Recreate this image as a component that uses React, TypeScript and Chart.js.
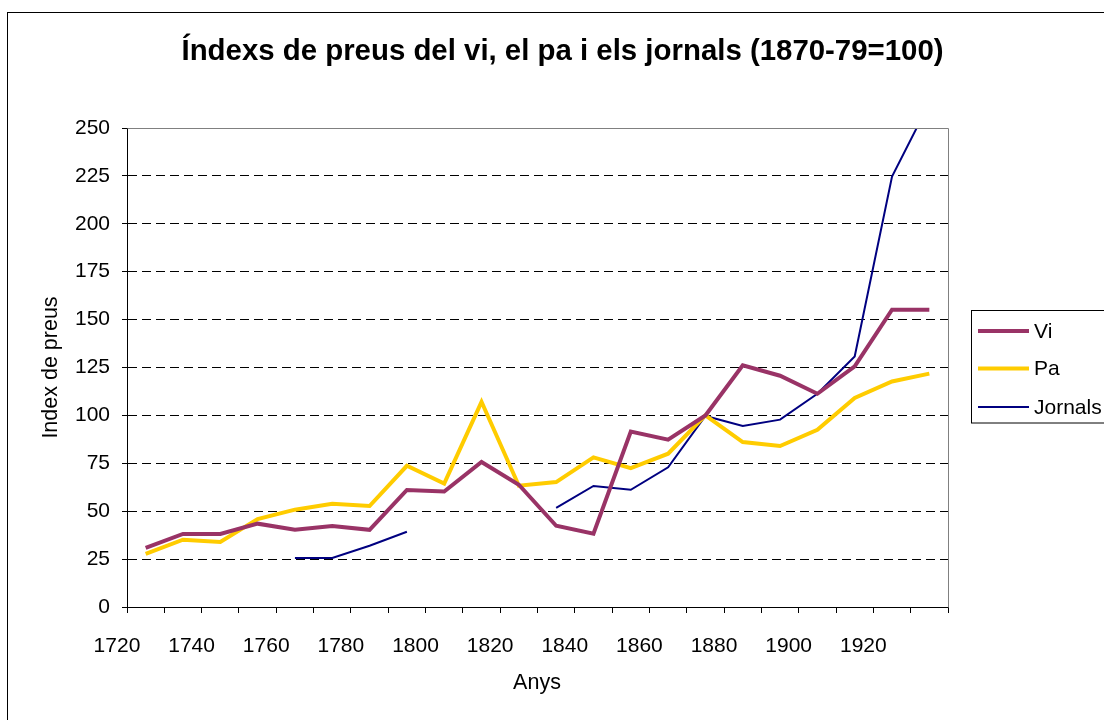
import React, { useEffect, useRef } from "react";
import { Chart, registerables } from "chart.js";

Chart.register(...registerables);

const categories = [
  "1720", "1730", "1740", "1750", "1760", "1770", "1780", "1790", "1800", "1810", "1820",
  "1830", "1840", "1850", "1860", "1870", "1880", "1890", "1900", "1910", "1920", "1930",
];
const viValues = [
  30.8, 38.1, 38.1, 43.5, 40.3, 42.3, 40.3, 61.1, 60.3, 75.7, 63.8,
  42.4, 38.3, 91.6, 87.3, 100, 126.1, 120.7, 111.3, 125.6, 155.2, 155.2,
];
const paValues = [
  27.7, 35.1, 33.9, 45.9, 50.8, 53.9, 52.7, 73.7, 64.4, 107.1, 63.3,
  65.2, 78.1, 72.5, 80, 100, 86.1, 84, 92.5, 109.1, 117.7, 121.8,
];
const jornalsValues = [
  null, null, null, null, 25.6, 25.6, 32, 39.3, null, null, null,
  51.7, 63.2, 61.2, 72.9, 99.7, 94.5, 97.8, 111.3, 130.8, 224.7, 263,
];
const seriesNames = ["Vi", "Pa", "Jornals"];
const titleText = "Índexs de preus del vi, el pa i els jornals (1870-79=100)";
const yTitle = "Index de preus";
const xTitle = "Anys";

const FONT = "'Liberation Sans', Arial, sans-serif";

const decorPlugin = {
  id: "decor",
  beforeDraw(chart: any) {
    const ctx = chart.ctx;
    ctx.save();
    ctx.fillStyle = "#ffffff";
    ctx.fillRect(0, 0, chart.width, chart.height);
    ctx.strokeStyle = "#000000";
    ctx.lineWidth = 1;
    ctx.strokeRect(7.5, 12.5, 1200, 900);
    ctx.restore();
  },
  afterDraw(chart: any) {
    const ctx = chart.ctx;
    const a = chart.chartArea;
    ctx.save();
    ctx.strokeStyle = "#808080";
    ctx.lineWidth = 1;
    ctx.beginPath();
    ctx.moveTo(Math.round(a.left) + 0.5, Math.round(a.top) + 0.5);
    ctx.lineTo(Math.round(a.right) + 0.5, Math.round(a.top) + 0.5);
    ctx.lineTo(Math.round(a.right) + 0.5, Math.round(a.bottom) + 0.5);
    ctx.stroke();

    ctx.fillStyle = "#000000";
    ctx.font = `bold 29.4px ${FONT}`;
    ctx.textAlign = "center";
    ctx.textBaseline = "alphabetic";
    ctx.fillText(titleText, 562.5, 59.5);

    ctx.font = `21.5px ${FONT}`;
    ctx.textAlign = "center";
    ctx.textBaseline = "alphabetic";
    ctx.fillText(xTitle, 537, 689);
    ctx.save();
    ctx.translate(57, 367.5);
    ctx.rotate(-Math.PI / 2);
    ctx.fillText(yTitle, 0, 0);
    ctx.restore();

    const lx = 971.5, ly = 310.5;
    ctx.strokeStyle = "#000000";
    ctx.lineWidth = 1;
    ctx.strokeRect(lx, ly, 200, 112.5);
    const rows = [331, 368.5, 407];
    chart.data.datasets.forEach((ds: any, i: number) => {
      ctx.strokeStyle = ds.borderColor;
      ctx.lineWidth = ds.borderWidth;
      ctx.beginPath();
      ctx.moveTo(978, rows[i]);
      ctx.lineTo(1029, rows[i]);
      ctx.stroke();
      ctx.fillStyle = "#000000";
      ctx.font = `21px ${FONT}`;
      ctx.textAlign = "left";
      ctx.textBaseline = "middle";
      ctx.fillText(ds.label, 1034, rows[i] + 1);
    });
    ctx.restore();
  },
};

export default function App() {
  const ref = useRef<HTMLCanvasElement | null>(null);
  useEffect(() => {
    if (!ref.current) return;
    const chart = new Chart(ref.current, {
      type: "line",
      data: {
        labels: categories,
        datasets: [
          { label: seriesNames[0], data: viValues, borderColor: "#993366", backgroundColor: "#993366", borderWidth: 4, pointRadius: 0, tension: 0 },
          { label: seriesNames[1], data: paValues, borderColor: "#FFCC00", backgroundColor: "#FFCC00", borderWidth: 4, pointRadius: 0, tension: 0 },
          { label: seriesNames[2], data: jornalsValues, borderColor: "#000080", backgroundColor: "#000080", borderWidth: 2, pointRadius: 0, tension: 0, spanGaps: false },
        ],
      },
      options: {
        responsive: false,
        animation: false,
        devicePixelRatio: 1,
        layout: { padding: { left: 0, top: 128, right: 156, bottom: 0 } },
        plugins: {
          legend: { display: false },
          title: { display: false },
          tooltip: { enabled: false },
        },
        scales: {
          x: {
            type: "category",
            offset: true,
            afterFit: (s: any) => { s.height = 113; },
            grid: {
              display: true,
              offset: true,
              drawOnChartArea: false,
              drawTicks: true,
              tickLength: 6,
              tickColor: "#000000",
              color: "#000000",
            },
            border: { display: true, color: "#000000", width: 1 },
            ticks: {
              autoSkip: false,
              maxRotation: 0,
              minRotation: 0,
              padding: 21,
              labelOffset: -28.7,
              color: "#000000",
              font: { family: FONT, size: 21 },
              callback: (_v: any, i: number) => (i % 2 === 0 ? categories[i] : ""),
            },
          },
          y: {
            min: 0,
            max: 250,
            afterFit: (s: any) => { s.width = 127; },
            grid: {
              color: (c: any) => (c.tick && (c.tick.value === 0 || c.tick.value === 250) ? "rgba(0,0,0,0)" : "#000000"),
              tickColor: "#000000",
              tickLength: 5,
              lineWidth: 1,
            },
            border: { display: true, color: "#000000", width: 1, dash: [9, 5] },
            ticks: {
              stepSize: 25,
              padding: 12,
              color: "#000000",
              font: { family: FONT, size: 21 },
            },
          },
        },
      },
      plugins: [decorPlugin],
    } as any);
    return () => chart.destroy();
  }, []);
  return (
    <div style={{ position: "absolute", left: 0, top: 0, width: 1104, height: 720, overflow: "hidden", background: "#fff" }}>
      <canvas ref={ref} width={1104} height={720} style={{ width: 1104, height: 720, display: "block" }} />
    </div>
  );
}
